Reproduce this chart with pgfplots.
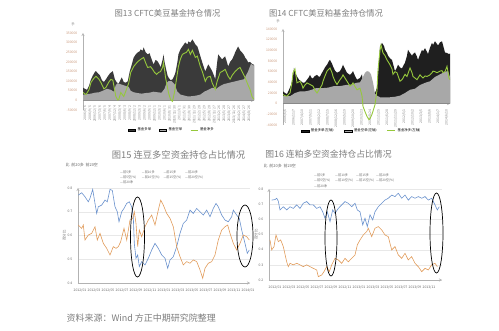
\documentclass[border=0pt]{standalone}
\usepackage{pgfplots}
\pgfplotsset{compat=1.18}
\usepackage{fontspec}
\setmainfont{Noto Sans CJK SC}
\definecolor{titlegray}{RGB}{125,125,125}
\definecolor{longc}{RGB}{58,58,58}
\definecolor{shortc}{RGB}{168,168,168}
\definecolor{netc}{RGB}{150,200,60}
\definecolor{tickc}{RGB}{200,150,120}
\definecolor{bluec}{RGB}{105,145,205}
\definecolor{orangec}{RGB}{225,155,90}
\newcommand{\tk}{\fontsize{3.4}{4}\selectfont}
\pgfplotsset{
  base/.style={scale only axis, anchor=south west,
    axis line style={-, gray!60, line width=0.4pt},
    tick style={draw=none},
    /pgf/number format/assume math mode=true,
    /pgf/number format/fixed, /pgf/number format/1000 sep={},
    scaled y ticks=false,
    hide obscured x ticks=false, hide obscured y ticks=false},
}
\begin{document}
\begin{tikzpicture}[x=1pt,y=1pt]
\path[use as bounding box] (0,0) rectangle (499,330);

% ---------------- Chart 13 ----------------
\begin{axis}[base, at={(83pt,220pt)}, width=171pt, height=77pt,
  xmin=82, xmax=254, ymin=-50000, ymax=350000,
  axis x line=middle, axis y line=left,
  ytick={-50000,0,50000,100000,150000,200000,250000,300000,350000},
  yticklabel style={font=\tk, text=tickc},
  xtick={84,89,...,249},
  xticklabels={2006/6/6,2006/9/5,2006/12/5,2007/3/6,2007/6/5,2007/9/4,2007/12/4,2008/3/4,2008/6/3,2008/9/2,2008/12/2,2009/3/3,2009/6/2,2009/9/1,2009/12/1,2010/3/2,2010/6/1,2010/8/31,2010/11/30,2011/3/1,2011/5/31,2011/8/30,2011/11/29,2012/2/28,2012/5/29,2012/8/28,2012/11/27,2013/2/26,2013/5/28,2013/8/27,2013/11/26,2014/2/25,2014/5/27,2014/8/26},
  xticklabel style={font=\tk, rotate=90, anchor=east, text=gray},
  legend style={at={(0.52,-0.26)}, anchor=center, draw=none, fill=none, font=\tk, legend columns=3, /tikz/every even column/.append style={column sep=6pt}},
  legend image code/.code={\draw[#1] (0pt,-1pt) rectangle (7pt,1pt);},
]
\addplot[fill=longc, draw=none] coordinates {
(82,66000)(84,60000)(86,55000)(88,75000)(90,109000)(92,130000)(94,148000)(95,152000)(97,140000)(99,130000)(101,105000)(103,95000)(105,109000)(107,125000)(109,140000)(111,148000)(112,152000)(114,110000)(116,93000)(118,88000)(120,110000)(121,119000)(123,95000)(125,92000)(127,99000)(129,150000)(131,185000)(133,223000)(135,238000)(137,249000)(139,255000)(140,265000)(142,258000)(143,275000)(145,250000)(147,239000)(149,245000)(150,228000)(152,200000)(153,187000)(155,210000)(157,203000)(159,185000)(160,171000)(162,210000)(163,239000)(164,200000)(165,176000)(167,130000)(168,119000)(170,105000)(172,109000)(174,130000)(175,145000)(177,200000)(178,239000)(180,265000)(182,280000)(184,295000)(185,301000)(187,290000)(188,306000)(190,300000)(192,317000)(194,300000)(195,291000)(197,280000)(198,265000)(200,230000)(202,197000)(204,165000)(205,151000)(207,175000)(208,187000)(210,170000)(212,151000)(214,125000)(215,109000)(217,200000)(218,239000)(220,225000)(222,213000)(224,225000)(225,228000)(227,195000)(228,176000)(230,200000)(232,213000)(234,235000)(235,249000)(237,270000)(238,280000)(240,260000)(242,249000)(244,235000)(245,223000)(247,210000)(248,197000)(250,200000)(252,190000)(254,185000)
} \closedcycle;
\addlegendentry{基金多单}
\addplot[fill=shortc, draw=none] coordinates {
(82,30000)(86,32000)(90,35000)(94,40000)(98,42000)(102,50000)(106,60000)(110,55000)(113,45000)(115,80000)(117,90000)(119,85000)(122,80000)(125,75000)(128,70000)(130,50000)(133,42000)(137,38000)(141,35000)(145,38000)(149,40000)(153,45000)(157,42000)(161,40000)(164,60000)(166,90000)(168,100000)(171,100000)(174,85000)(177,45000)(180,30000)(184,25000)(188,20000)(192,22000)(196,25000)(200,30000)(204,45000)(208,55000)(212,65000)(216,60000)(220,75000)(224,85000)(228,90000)(232,95000)(236,100000)(240,105000)(244,110000)(248,150000)(251,190000)(254,180000)
} \closedcycle;
\addlegendentry{基金空单}
\addplot[netc, line width=0.9pt, legend image code/.code={\draw[netc,line width=0.9pt] (0pt,0pt) -- (7pt,0pt);}] coordinates {
(82,41000)(85,30000)(88,55000)(90,93000)(93,115000)(95,125000)(98,110000)(100,93000)(103,60000)(105,67000)(108,95000)(110,109000)(112,105000)(114,50000)(115,21000)(117,2000)(118,5000)(120,41000)(123,20000)(125,47000)(128,90000)(130,145000)(133,176000)(136,195000)(138,205000)(140,213000)(143,223000)(145,195000)(147,171000)(150,175000)(152,161000)(154,145000)(156,135000)(158,145000)(160,150000)(162,170000)(163,197000)(165,120000)(166,93000)(168,40000)(170,5000)(172,-5000)(174,41000)(176,110000)(178,176000)(180,215000)(182,239000)(184,245000)(186,249000)(188,265000)(190,239000)(192,260000)(195,223000)(197,230000)(200,176000)(202,150000)(205,99000)(207,120000)(210,125000)(212,90000)(215,57000)(217,100000)(220,145000)(222,150000)(225,161000)(228,125000)(230,110000)(232,130000)(235,150000)(238,165000)(240,171000)(242,150000)(245,119000)(248,80000)(250,57000)(252,20000)(254,5000)
};
\addlegendentry{基金净多}
\end{axis}

% ---------------- Chart 14 ----------------
\begin{axis}[base, at={(283pt,205pt)}, width=167pt, height=96pt,
  xmin=283, xmax=450, ymin=-40000, ymax=140000,
  axis x line=middle, axis y line=left,
  ytick={-40000,-20000,0,20000,40000,60000,80000,100000,120000,140000},
  yticklabel style={font=\tk, text=tickc},
  xtick={285,293.5,...,447},
  xticklabels={2006/6/6,2006/11/7,2007/4/10,2007/9/11,2008/2/12,2008/7/15,2008/12/16,2009/5/19,2009/10/20,2010/3/23,2010/8/24,2011/1/25,2011/6/28,2011/11/29,2012/5/1,2012/10/2,2013/3/5,2013/8/6,2014/1/7,2014/6/10},
  xticklabel style={font=\tk, rotate=90, anchor=east, text=gray},
  legend style={at={(0.47,-0.06)}, anchor=center, draw=none, fill=none, font=\tk, legend columns=3, /tikz/every even column/.append style={column sep=8pt}},
  legend image code/.code={\draw[#1] (0pt,-1pt) rectangle (8pt,1pt);},
]
\addplot[fill=black!88, draw=none] coordinates {
(283,23000)(285,20000)(287,18000)(289,26000)(291,35000)(293,50000)(294,67000)(296,55000)(297,51000)(299,45000)(301,42000)(303,39000)(305,40000)(307,45000)(309,50000)(310,54000)(312,47000)(313,48000)(315,52000)(317,54000)(319,50000)(320,51000)(322,58000)(323,61000)(325,68000)(327,73000)(329,80000)(330,82000)(332,75000)(333,70000)(335,62000)(337,58000)(339,60000)(340,61000)(342,68000)(343,73000)(345,65000)(347,58000)(349,55000)(350,54000)(352,58000)(353,61000)(355,52000)(357,45000)(359,47000)(360,48000)(362,55000)(363,40000)(366,30000)(369,25000)(372,22000)(375,20000)(377,30000)(379,80000)(380,107000)(382,114000)(384,108000)(385,101000)(387,95000)(388,90000)(390,85000)(392,82000)(393,75000)(395,61000)(397,68000)(398,73000)(400,68000)(402,66000)(403,70000)(405,77000)(407,90000)(408,101000)(410,95000)(412,90000)(413,93000)(415,96000)(417,88000)(418,82000)(420,92000)(422,101000)(423,98000)(425,104000)(427,97000)(428,93000)(430,105000)(432,114000)(433,110000)(435,117000)(437,112000)(438,109000)(440,115000)(442,117000)(443,110000)(445,96000)(447,95000)(449,93000)(450,94000)
} \closedcycle;
\addlegendentry{基金多单(左轴)}
\addplot[fill=shortc, draw=none] coordinates {
(283,14000)(290,14000)(295,20000)(300,23000)(305,23000)(310,25000)(316,29000)(322,29000)(328,30000)(334,33000)(340,33000)(346,35000)(352,36000)(356,39000)(360,40000)(363,50000)(365,58000)(367,61000)(369,60000)(371,55000)(373,40000)(375,19000)(377,15000)(380,12000)(385,12000)(390,12000)(395,13000)(400,15000)(405,20000)(410,26000)(415,28000)(420,35000)(425,39000)(430,42000)(435,50000)(440,55000)(445,60000)(448,61000)(450,50000)
} \closedcycle;
\addlegendentry{基金空单(左轴)}
\addplot[netc, line width=0.9pt, legend image code/.code={\draw[netc,line width=0.9pt] (0pt,0pt) -- (8pt,0pt);}] coordinates {
(283,17000)(285,15000)(287,14000)(290,20000)(292,40000)(293,58000)(295,65000)(297,39000)(300,42000)(302,35000)(303,29000)(305,35000)(307,39000)(310,36000)(313,33000)(315,25000)(317,20000)(320,29000)(322,35000)(323,42000)(325,52000)(327,61000)(330,67000)(332,58000)(333,51000)(335,42000)(337,36000)(340,45000)(342,50000)(343,54000)(345,48000)(347,42000)(350,33000)(352,36000)(353,39000)(355,32000)(357,26000)(360,29000)(362,15000)(363,-5000)(365,-15000)(367,-24000)(369,-30000)(370,-28000)(372,-20000)(375,-2000)(377,25000)(378,63000)(380,100000)(381,110000)(383,95000)(385,90000)(387,82000)(390,73000)(392,65000)(393,55000)(395,60000)(397,58000)(400,42000)(402,45000)(403,48000)(405,55000)(407,51000)(410,67000)(412,58000)(413,51000)(415,48000)(417,45000)(420,54000)(422,50000)(423,48000)(425,52000)(427,51000)(430,54000)(432,58000)(433,61000)(435,60000)(437,58000)(440,61000)(442,62000)(443,58000)(445,60000)(447,70000)(449,48000)(450,45000)
};
\addlegendentry{基金净多(左轴)}
\end{axis}

% ---------------- Chart 15 ----------------
\begin{axis}[base, at={(78pt,47pt)}, width=172pt, height=95pt,
  xmin=78, xmax=250, ymin=0.4, ymax=0.8,
  axis x line=bottom, axis y line=left,
  ytick={0.4,0.5,0.6,0.7,0.8},
  ymajorgrids, grid style={gray!18, line width=0.3pt},
  yticklabel style={font=\tk, text=gray!80!black},
  /pgf/number format/precision=1,
  ylabel={百分比}, ylabel style={font=\tk, text=gray!80!black, at={(axis description cs:-0.05,0.5)}},
  xtick={80,94,...,248},
  xticklabels={2012/01,2012/03,2012/05,2012/07,2012/09,2012/11,2013/01,2013/03,2013/05,2013/07,2013/09,2013/11,2014/01},
  xticklabel style={font=\tk, text=gray!80!black},
]
\addplot[bluec, line width=0.6pt] coordinates {
(78.3,.77)(81.7,.78)(85,.763)(88.3,.742)(90,.757)(92.7,.794)(95,.735)(96.7,.693)(98.3,.721)(101.7,.728)(105,.749)(107.3,.742)(110,.794)(112.3,.79)(115,.721)(117.3,.70)(119,.658)(121.7,.70)(124,.714)(126.7,.735)(129.3,.742)(131.7,.721)(133.3,.679)(134.3,.567)(136,.504)(137.7,.518)(139.3,.469)(141.7,.49)(145,.476)(148.3,.504)(151.7,.539)(155,.567)(158.3,.546)(161.7,.518)(165,.504)(167.7,.462)(170,.497)(173.3,.511)(176.7,.553)(180,.609)(183.3,.651)(186.7,.665)(190,.707)(193.3,.693)(196.7,.714)(200,.70)(203.3,.686)(206.7,.707)(210,.679)(213.3,.714)(216,.735)(218.3,.721)(221.7,.686)(225,.665)(228.3,.658)(231.7,.679)(233.3,.707)(236.7,.686)(239.3,.672)(241.7,.623)(245,.567)(247.3,.525)(249.3,.539)
};
\addplot[orangec, line width=0.6pt] coordinates {
(78.3,.644)(81.7,.63)(83.3,.644)(85,.581)(88.3,.602)(91.7,.609)(95,.637)(97.3,.581)(100,.609)(103.3,.567)(106.7,.546)(110,.518)(113.3,.553)(116,.546)(118.3,.553)(120.7,.574)(124,.63)(126.7,.581)(130,.665)(132.7,.672)(134.3,.70)(136,.651)(137.7,.553)(139.3,.623)(141.7,.595)(145,.637)(148.3,.665)(151.7,.686)(155,.644)(158.3,.707)(160.7,.749)(163.3,.728)(166.7,.693)(170,.672)(173.3,.637)(176.7,.553)(180,.511)(183.3,.476)(186.7,.49)(190,.483)(193.3,.497)(196.7,.49)(200,.455)(202.7,.42)(205,.462)(208.3,.483)(211.7,.49)(215,.518)(218.3,.581)(221.7,.623)(225,.637)(227.7,.644)(230,.609)(233.3,.567)(236.7,.539)(240,.567)(243.3,.602)(246.7,.595)(249.3,.581)
};
\end{axis}

% ---------------- Chart 16 ----------------
\begin{axis}[base, at={(269pt,50pt)}, width=173pt, height=91pt,
  xmin=269, xmax=442, ymin=0.2, ymax=0.8,
  axis x line=bottom, axis y line=left,
  ytick={0.2,0.3,0.4,0.5,0.6,0.7,0.8},
  ymajorgrids, grid style={gray!18, line width=0.3pt},
  yticklabel style={font=\tk, text=gray!80!black},
  /pgf/number format/precision=1,
  ylabel={百分比}, ylabel style={font=\tk, text=gray!80!black, at={(axis description cs:-0.045,0.5)}},
  xtick={275,289,...,429},
  xticklabels={2012/01,2012/03,2012/05,2012/07,2012/09,2012/11,2013/01,2013/03,2013/05,2013/07,2013/09,2013/11},
  xticklabel style={font=\tk, text=gray!80!black},
]
\addplot[bluec, line width=0.6pt] coordinates {
(271.7,.727)(275,.73)(276.7,.739)(278.3,.72)(280,.662)(283.3,.683)(286.7,.662)(290,.683)(293.3,.672)(296.7,.695)(300,.672)(303.3,.706)(306.7,.717)(310,.695)(313.3,.695)(316.7,.672)(320,.683)(322.7,.65)(325,.607)(327.3,.65)(330,.585)(332.7,.662)(335,.64)(338.3,.672)(341.7,.695)(345,.717)(348.3,.706)(351.7,.683)(355,.706)(357.3,.662)(360,.65)(362.7,.563)(365,.607)(367.3,.552)(370,.63)(372.7,.596)(375,.65)(378.3,.683)(381.7,.706)(385,.727)(388.3,.739)(391.7,.76)(395,.75)(398.3,.772)(401.7,.739)(405,.76)(408.3,.727)(411.7,.75)(415,.739)(418.3,.75)(421.7,.739)(425,.75)(428.3,.727)(431.7,.739)(435,.695)(437.3,.662)(439.3,.683)
};
\addplot[orangec, line width=0.6pt] coordinates {
(270,.464)(271.7,.398)(274,.42)(276,.497)(278.3,.453)(280.7,.464)(283.3,.42)(286.7,.32)(288.3,.288)(290,.31)(293.3,.30)(296.7,.31)(300,.30)(303.3,.288)(306.7,.30)(310,.288)(313.3,.277)(316.7,.266)(318.3,.222)(321.7,.233)(324,.255)(326.7,.288)(329.3,.255)(331.7,.30)(335,.343)(338.3,.332)(341.7,.31)(345,.343)(348.3,.32)(351.7,.343)(355,.365)(357.3,.431)(360,.464)(363.3,.497)(366.7,.519)(368.3,.541)(371.7,.486)(375,.541)(378.3,.552)(381.7,.53)(385,.497)(388.3,.486)(391.7,.398)(395,.42)(398.3,.365)(401.7,.343)(405,.376)(408.3,.332)(411.7,.354)(415,.31)(418.3,.288)(421.7,.255)(425,.277)(428.3,.266)(431.7,.30)(435,.31)(437.3,.288)
};
\end{axis}

% ---------------- annotations & text ----------------
\draw[black, line width=0.7pt] (137.5,93) ellipse (7 and 40);
\draw[black, line width=0.7pt] (245,94) ellipse (8 and 31);
\draw[black, line width=0.7pt] (331,92) ellipse (6 and 38);
\draw[black, line width=0.7pt] (436.5,97) ellipse (6.5 and 40);

\node[text=titlegray, font=\fontsize{8.3}{9}\selectfont] at (167.5,317) {图13 CFTC美豆基金持仓情况};
\node[text=titlegray, font=\fontsize{8.3}{9}\selectfont] at (326,317) {图14 CFTC美豆粕基金持仓情况};
\node[text=titlegray, font=\fontsize{9.3}{10}\selectfont] at (178.5,175) {图15 连豆多空资金持仓占比情况};
\node[text=titlegray, font=\fontsize{8.8}{10}\selectfont] at (328.5,176) {图16 连粕多空资金持仓占比情况};
\node[text=titlegray, font=\fontsize{9}{10}\selectfont, anchor=west] at (63,12) {资料来源：Wind 方正中期研究院整理};

\node[text=gray, font=\tk] at (73,306) {手};
\node[text=gray, font=\tk] at (278,309) {手};

\node[text=gray!80!black, font=\fontsize{4}{5}\selectfont, anchor=west] at (62,165) {比\ \ 前20多\ \ 前20空};
\node[text=gray!80!black, font=\fontsize{4}{5}\selectfont, anchor=west] at (260,164) {比\ \ 前20多\ \ 前20空};

\foreach \lx/\ly/\t in {120/158/前5多,141.7/158/前10多,163.3/158/前15多,185/158/前20多,
  120/153/前5空(\%),141.7/153/前10空(\%),163.3/153/前15空(\%),185/153/前20空(\%),120/148/前20净,
  314/155/前5多,335/155/前10多,356/155/前15多,376/155/前20多,
  314/149.5/前5空(\%),335/149.5/前10空(\%),356/149.5/前15空(\%),376/149.5/前20空(\%),314/144/前20净}
  {\node[text=gray!80!black, font=\fontsize{3.2}{4}\selectfont, anchor=west, inner sep=0pt] at (\lx,\ly) {—\t};}
\end{tikzpicture}
\end{document}
